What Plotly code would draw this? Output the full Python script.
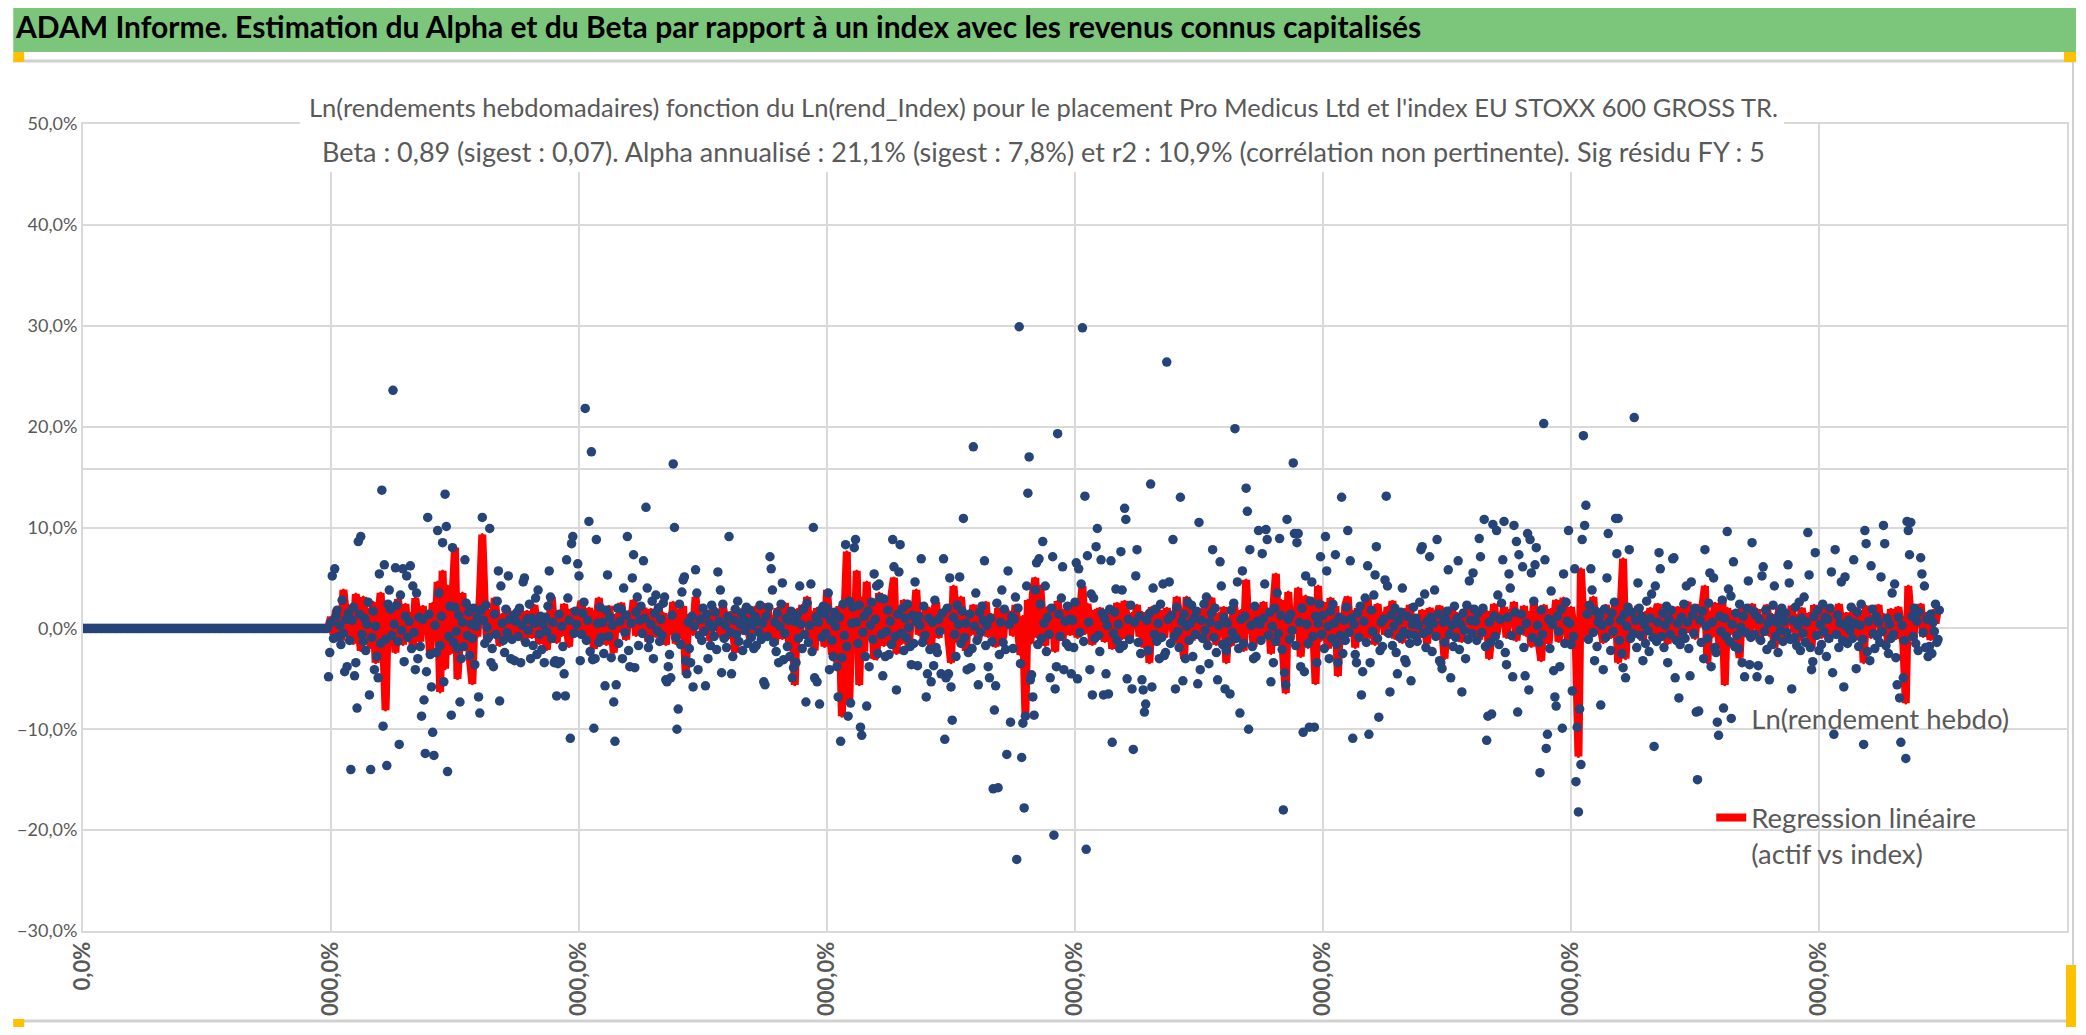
import plotly.graph_objects as go

# page is 2086 x 1035; the browser adds an 8 px body margin around the figure,
# so the figure is kept 16 px smaller and nothing is drawn outside it
PAGE_W, PAGE_H = 2086, 1035
OFF = 8
W, H = PAGE_W - 2 * OFF, PAGE_H - 2 * OFF
# plot area in page pixels
PL, PR, PT, PB = 78, 2069, 124, 931
ML, MR, MT, MB = PL - OFF, W - (PR - OFF), PT - OFF, H - (PB - OFF)
PW, PH = W - ML - MR, H - MT - MB

BLUE = "#264478"
RED = "#FF0000"
GRID = "#D9D9D9"
TXT = "#595959"
GREEN = "#7CC67C"
YELLOW = "#FFC000"
CAL = "Lato, Liberation Sans, Arial, sans-serif"

banner_title = ("ADAM Informe. Estimation du Alpha et du Beta par rapport à un index "
                "avec les revenus connus capitalisés")
sub_line1 = ("Ln(rendements hebdomadaires) fonction du Ln(rend_Index) pour le placement "
             "Pro Medicus Ltd et l'index EU STOXX 600 GROSS TR.")
sub_line2 = ("Beta : 0,89 (sigest : 0,07). Alpha annualisé : 21,1% (sigest : 7,8%) et r2 : "
             "10,9% (corrélation non pertinente). Sig résidu FY : 5")
name_asset = "Ln(rendement hebdo)"
name_fit = "Regression linéaire<br>(actif vs index)"

x_range = [0, 1600]
x_tick_values = [0, 200, 400, 600, 800, 1000, 1200, 1400, 1600]
# x labels as they show, cut by the bottom of the chart frame
x_tick_labels = ["0,0%", "000,0%", "000,0%", "000,0%", "000,0%",
                 "000,0%", "000,0%", "000,0%", "000,0%"]
y_range = [-0.3, 0.5]
y_step = 0.1

# weeks before the first quote: ln return shown as 0
first_week = 198
pre_listing = [0.0] * first_week

# weekly ln returns of the asset (%), one per week from week 198
asset_ln_pct = [
    -4.8, -2.4, 0.6, 5.2, -1.0, 5.9, 1.2, 1.8, -0.8, 0.3, -1.6, 2.8, -0.5, -4.3, 0.9, -3.8, 1.5, -1.2, -14.0, 0.8, 2.1, -4.7, -3.4, -7.9, 8.6,
    1.4, 9.1, -0.6, -1.3, 1.0, -2.2, 0.4, 2.6, -6.6, -14.0, -0.9, 1.7, -4.1, 0.2, -2.8, -4.9, 5.4, -1.5, 13.7, -9.7, 6.3, -1.1, -13.6, 2.4, 3.8,
    1.9, -0.7, 23.6, 0.4, 6.0, 2.3, -1.3, -11.5, 3.3, -0.2, 5.9, -3.3, 1.2, 5.2, -0.9, 0.7, 6.2, -2.0, 4.2, -0.4, -4.1, 3.5, -3.0, 1.1, -1.8,
    -8.7, 0.9, -7.1, -12.4, -4.3, 11.0, 1.4, -2.6, -5.8, -10.3, -12.6, 0.3, -2.4, 9.7, 3.5, -1.7, 1.2, 8.5, -5.3, 13.3, 10.1, -14.2, -0.8, 2.2, -8.6,
    8.0, -1.4, 2.1, -0.3, -2.0, 1.3, -7.3, -3.0, 0.6, -1.8, 6.8, 2.5, -0.7, 1.6, -2.7, 0.4, -1.0, 2.0, -3.6, 0.2, 1.1, -6.8, -8.4, 1.8, 11.0,
    0.8, -1.5, 2.3, 0.1, -0.9, 9.9, -3.4, -2.0, -3.8, 1.4, -0.6, 2.7, 5.7, -7.2, 4.2, 0.5, -1.2, -2.4, 1.9, -0.4, 5.2, 0.9, -3.0, -1.1, 1.3,
    -3.2, 0.7, 1.6, -0.8, 2.0, -3.4, 0.3, 4.6, 5.0, -1.4, 0.9, -0.2, 2.4, -3.0, 1.0, -1.7, 0.5, 3.0, -2.6, 3.8, -0.6, 1.2, -2.1, 0.4, -3.4,
    1.1, -0.3, 2.2, 5.7, 3.1, -1.0, 0.6, -3.4, -3.2, -6.7, -3.5, 1.4, -3.3, 0.2, -1.8, -4.5, -6.7, 6.8, 3.0, 0.8, -10.9, 8.4, 9.1, -0.5, 1.7,
    0.4, 6.4, 5.2, -3.2, -0.6, 1.5, 2.6, 21.8, -1.2, 0.8, 10.6, -2.3, 17.5, -3.1, -9.9, -3.0, 8.8, 0.5, -1.4, 2.1, -0.9, 0.6, -2.5, -5.7, 1.8,
    5.3, -0.8, 1.1, -2.9, 0.3, -7.3, -11.2, -5.6, 2.0, -1.5, 0.7, 1.9, -3.0, 4.0, -0.4, 1.3, 9.1, -2.2, -3.8, 0.5, 5.0, 7.3, -3.9, 1.6, 3.1,
    -1.7, 0.8, 2.2, -0.5, 6.7, 1.0, 12.0, 4.0, -1.9, -1.1, 0.4, 2.7, -3.0, 1.5, 3.3, -0.2, 2.0, -1.3, 0.9, -0.7, 2.5, 3.1, -5.1, -5.3, -3.8,
    -2.6, -4.9, 1.3, 16.3, 10.0, -0.9, -10.0, -8.0, 2.4, -1.6, 3.6, 4.8, 5.1, -3.2, -4.5, 0.6, -2.0, -3.4, 1.2, -5.8, 0.2, 5.8, 3.5, -4.1, -0.7,
    0.9, -1.2, 2.0, -0.3, -5.7, 1.4, -3.0, 0.5, -1.7, 2.3, 0.1, -0.8, 1.6, -2.1, 5.6, 0.7, 3.8, -4.4, 2.4, -1.0, 0.3, -1.9, 1.2, 9.1, -0.4,
    -4.5, -2.8, 0.8, 1.9, -0.6, 2.7, -1.3, 0.4, 1.5, -2.2, 0.9, -0.2, 2.1, -1.5, 0.6, 1.8, -0.9, 0.3, -2.0, 1.2, -1.7, 0.7, -0.4, 2.3, -1.1,
    0.5, -5.3, -5.6, 1.2, -0.8, 2.1, 7.1, 5.9, 3.8, -1.4, 0.6, -2.3, 1.5, -3.4, 0.2, 2.4, 4.5, -3.1, -0.5, 1.0, -1.8, 0.8, -2.8, 1.7, -4.9,
    -3.9, 0.7, -3.4, 1.3, -1.0, 4.2, 0.4, -2.0, 1.9, -0.6, -7.3, 2.5, -1.4, 0.3, 4.4, -2.3, 10.0, -4.9, 1.1, -5.3, 0.6, -7.5, 1.8, -0.9, 2.2,
    1.4, -0.5, 2.0, 3.5, -4.1, 0.8, -1.2, -2.8, 1.6, 0.2, -3.8, -6.8, 1.1, -11.2, -2.9, 2.4, -0.7, 8.3, -1.8, -8.7, 2.7, -7.4, 0.5, 2.1, 8.0,
    8.8, 0.6, -1.5, 2.3, -9.8, -10.6, -0.4, 1.2, -2.8, -7.7, 1.7, -3.8, 0.3, 2.6, -1.1, 5.4, 0.9, 4.2, -2.5, 4.4, 3.0, -0.6, -4.7, 2.9, -2.8,
    -0.3, 1.8, -2.6, 0.7, -1.6, 8.8, 6.1, -0.8, -6.1, 1.4, 5.6, 8.3, -0.5, 2.0, -2.2, 1.0, -0.9, 2.4, 0.1, -1.8, -3.6, 1.3, -1.5, 4.6, 0.7,
    -3.7, 1.2, 0.3, 6.9, -1.4, 2.2, -0.7, -6.8, -4.5, 1.0, -2.1, -5.3, 0.6, -3.7, 2.8, -1.9, -2.4, 0.9, -0.3, -4.5, 1.5, 6.9, -11.0, -4.9, 2.0,
    -4.5, 5.0, -5.8, -9.1, 1.1, -0.6, -2.8, 2.3, 0.4, 5.1, -1.5, 1.7, 10.9, -0.9, 0.5, -4.1, -2.4, 1.4, -3.9, -2.0, 18.0, 0.2, 3.5, -1.2, -5.6,
    1.6, -0.4, 2.2, 0.8, 6.7, -1.7, 0.3, -3.8, -4.9, 1.0, -1.3, -15.9, -8.1, -5.7, 2.5, -15.8, -2.6, 0.6, 3.8, -1.4, 1.9, -2.1, -12.5, 5.7, 0.4,
    -9.3, 1.2, -2.0, 0.9, 3.1, -22.9, 2.0, 29.9, -3.5, -12.8, -9.4, -17.8, -8.7, 4.2, 13.4, 17.0, -5.1, -4.6, -6.8, -8.6, 3.8, 6.5, -1.6, 6.9, 2.4,
    -1.0, 8.6, 0.5, 4.2, -2.3, 1.1, -0.6, -4.9, 2.0, 7.1, -20.5, -6.0, -3.8, 19.3, 1.4, -0.8, 3.0, 6.1, -4.1, 0.7, -1.5, 2.2, -1.8, 0.9, -4.5,
    0.8, -1.9, 2.6, 6.5, -5.0, 5.9, -0.4, 4.4, 29.8, -1.3, 13.1, -21.9, 7.2, 0.6, -4.1, 3.4, -6.6, 3.0, -1.0, 8.1, 9.9, -0.7, -2.3, 6.8, 1.5,
    -6.6, 1.0, -4.5, 0.3, -6.5, 1.9, 6.7, -11.3, -0.5, 1.6, 3.9, -1.2, 0.4, -2.0, 7.6, 3.8, -1.7, 11.9, 10.8, -5.0, 0.9, -1.1, 2.3, -6.0, -12.0,
    0.6, 5.2, 7.8, -1.4, 1.2, -2.5, -5.1, -6.1, -8.3, -7.5, 0.8, -2.2, 1.5, 14.3, -5.8, 4.0, -0.6, 1.9, -1.3, 0.5, -3.0, 2.4, -0.9, 4.4, -2.7,
    -2.4, 26.4, 0.9, 4.6, -1.5, 1.3, 8.8, -0.8, -6.0, 2.1, -0.3, -1.9, 13.0, 0.7, -5.2, 1.4, -3.0, 0.2, 2.6, -1.2, 0.5, 2.3, -2.8, 1.0, -0.6,
    1.7, -5.5, 10.5, -4.1, 0.8, -1.0, 2.4, -0.2, 3.1, -1.7, -3.5, 0.6, 1.5, 7.8, -0.9, 2.0, -2.4, -5.1, 0.3, 6.6, 4.2, -1.6, 1.1, -6.0, -2.2,
    0.5, -1.3, -6.5, 1.8, -0.4, 2.5, 19.8, -1.0, 4.6, -2.0, -8.4, 0.9, 5.7, -1.5, 1.2, 13.9, 11.6, -10.0, 7.8, 0.3, -1.8, -3.0, 2.2, -2.8, 0.7,
    9.7, 0.4, -1.2, 7.4, 1.0, 4.4, 9.8, 8.8, -0.7, 1.6, -5.3, 0.2, -3.4, 2.0, -1.3, 3.5, -0.5, 8.9, 1.3, -2.1, -18.0, -4.4, -5.6, 10.8, 0.9,
    -1.1, 1.4, -0.2, 16.4, 9.4, -1.7, 8.5, 9.4, 0.6, -3.8, 2.0, -10.3, -4.3, 5.2, 0.4, -1.5, -9.8, 2.7, 4.6, -0.8, -9.8, 1.2, -3.4, 0.5, 2.4,
    7.1, -0.6, 1.3, -2.0, 9.1, 5.7, 0.2, -3.0, 1.7, -1.0, 2.4, 0.5, 7.3, -1.6, -3.4, 1.1, -0.7, 13.0, -2.5, 0.8, -1.2, 2.1, 9.7, -0.4, 6.7,
    1.0, -10.9, 0.4, -2.6, -3.4, 1.5, -0.9, 2.2, -6.6, -4.3, 0.7, 3.0, -1.4, 6.2, -10.5, -3.4, 1.8, -0.3, 3.3, 5.3, 8.1, -1.0, -8.8, -2.2, 0.6,
    -1.8, 0.9, 4.8, 13.1, 4.2, -0.5, -6.3, 1.3, -1.7, 0.2, 2.0, -2.4, -4.5, 0.8, -0.9, 1.6, 4.0, -0.3, -3.1, -3.4, 1.2, -0.6, -1.5, -5.2, 0.4,
    2.1, -0.7, 1.0, -1.3, 0.3, 2.6, 7.8, 8.1, -0.5, 3.4, -1.9, 0.7, -0.2, 7.1, 1.1, -2.3, 0.5, 3.8, -0.8, 8.8, 1.4, -3.2, -3.4, -4.0, 0.6,
    -1.4, 0.9, 1.7, 5.8, -0.6, -4.9, 0.3, -1.8, 2.2, -0.9, 1.0, 6.7, -2.1, 0.4, -6.3, 1.5, -0.2, -3.0, 2.3, -1.1, 4.7, 0.8, -0.5, 5.5, 1.9,
    0.7, -1.2, 1.5, 8.9, 7.1, -0.4, 2.0, 10.8, -1.8, -11.1, -8.7, 0.6, -1.4, -8.5, 10.3, 1.2, -0.8, 9.7, 3.3, -1.6, 0.9, 2.5, 6.8, 10.6, -2.4,
    -3.6, 1.1, 5.4, 4.0, -0.7, -4.8, 10.2, 1.6, 8.6, -8.3, 7.3, -0.2, 1.4, 6.1, -1.9, -4.7, 0.5, 9.4, -6.1, 8.8, 5.5, -0.9, 2.7, 6.3, 8.0,
    0.3, -1.4, -14.3, 1.8, -0.6, 20.3, 6.8, -11.9, -10.5, 0.9, -2.0, 3.7, 0.4, -4.2, -6.8, -7.7, 1.2, -0.3, -3.8, 1.9, -9.9, 5.4, -1.5, 2.6, 0.7,
    9.7, 0.5, -1.6, -6.2, -0.8, 5.9, -15.2, -9.8, -18.2, -8.0, -13.5, 8.8, 19.1, 10.2, 12.2, 1.4, -1.1, 2.3, 5.9, 3.8, -0.4, -3.2, 1.7, -1.8, 0.6,
    1.2, -7.6, 0.3, -4.1, 1.9, -0.9, 5.0, 9.4, 0.7, -2.2, 1.5, -0.3, 2.6, 10.9, 7.4, 10.9, -1.2, 0.8, -2.5, -3.9, 1.4, -4.9, 0.2, 2.1, 7.8,
    -1.0, 1.6, -0.5, 20.9, 0.8, -1.9, 4.5, 2.0, -0.7, 1.2, -3.2, 0.4, -1.5, 2.7, -0.2, -2.3, 1.0, 3.4, -0.9, -11.7, 4.2, -1.3, 0.6, 7.5, 5.9,
    -0.8, 1.5, -1.9, 0.3, 2.2, -3.4, 0.9, -0.6, 1.8, 6.9, 7.0, -4.9, -1.2, 0.5, -6.9, -1.6, 1.1, -0.4, 2.4, -1.0, 4.2, 0.6, -2.0, -4.7, 4.6,
    1.3, -0.5, 2.0, -8.3, -15.0, -8.2, 0.8, -1.4, 1.7, -3.0, 7.8, 0.2, -1.0, 2.5, 5.5, -3.8, 0.6, 5.0, -1.9, -2.4, -9.3, -10.6, 1.2, -0.3, 2.8,
    -7.9, 1.0, -0.8, 9.6, 3.9, -1.3, 3.2, 0.4, 6.6, -1.8, 1.5, -0.7, -2.0, 2.4, 0.1, -3.4, 1.2, -4.8, -0.4, 2.0, 4.7, -3.6, -0.9, 8.5, 1.7,
    -0.6, 1.3, -4.8, -3.7, 0.9, -1.2, 5.2, 6.1, -0.3, 1.8, -2.1, 0.5, -5.1, 1.0, -1.6, 2.3, 4.2, -0.8, 0.6, -2.4, 1.4, -0.2, 2.0, -1.3, 0.7,
    1.5, -0.4, 6.3, 4.5, -1.1, -6.0, 0.8, -0.9, 2.1, -1.7, 0.3, 2.6, -2.2, 1.0, -0.5, 3.1, -1.4, 0.6, 9.5, 5.3, -1.9, -4.1, -3.3, 1.2, 7.5,
    -0.7, 1.8, -2.2, 0.4, -1.6, 2.4, -0.3, 1.1, -2.8, 0.9, -1.0, 2.0, 5.6, -4.4, -10.5, 7.8, -0.6, 1.3, -1.9, 0.5, 4.6, -1.2, -5.8, 5.1, 0.2,
    -1.5, 0.8, -0.2, 2.1, -1.0, 6.8, 0.5, -4.0, 1.6, -1.8, 0.3, 2.4, -1.1, -11.5, 9.7, 8.4, -2.3, 0.7, -3.2, 6.2, 1.9, -0.5, -2.0, 1.2, -0.8,
    0.6, -1.4, 5.1, -0.3, 10.2, 8.4, -1.7, 1.0, -2.5, 0.4, -1.0, 3.5, -0.6, 4.4, -2.9, -5.6, 1.1, -6.9, -11.3, 0.3, -4.9, -1.2, -12.9, 10.6, 9.7,
    7.3, 10.5, 1.2, -0.8, 2.0, -1.5, 0.7, -2.2, 1.6, 7.0, 5.4, -0.4, 4.2, -1.9, 0.9, -2.8, -1.8, 1.4, -2.5, 0.6, -0.3, 2.4, -1.4, -1.1, 1.8,
]

# regression line alpha + beta * index (%), every second week from week 198
fit_pct = [
    0.2, 1.1, -0.6, 1.8, 0.4, -1.2, 3.8, 0.9, -0.8, 2.0, -1.5, 3.4, 0.6, -2.2, 3.1, 0.3, 1.9, -1.9, 2.6, -3.4, 0.8, 3.5, -0.9, -8.1, 2.2,
    -1.0, 1.7, -2.4, 2.9, 0.2, -1.6, 2.4, -0.5, 1.5, -2.1, 3.0, 0.7, -1.3, 2.2, -0.4, 1.2, -2.8, 2.5, -1.0, 4.6, -6.3, 5.7, -4.0, 4.2, -2.5,
    3.0, 8.0, -5.0, 1.6, 3.5, -1.8, 2.4, -3.0, -5.5, 1.9, -0.8, 3.0, 9.3, 2.3, -1.4, 1.8, -0.6, 3.0, 0.4, -1.7, 1.4, -0.3, 2.0, -1.1, 0.8,
    1.6, -0.5, 2.1, 0.3, -1.3, 1.7, 0.5, -0.9, 2.3, 0.1, -1.5, 1.2, 0.6, -2.1, 1.8, 3.1, 0.2, -1.4, 1.5, -0.7, 2.4, 0.4, -1.8, 1.9, 0.7,
    -0.6, 1.5, 2.7, 0.3, -1.2, 2.0, 0.8, -2.0, 1.3, 3.0, -0.4, 1.6, -1.6, 2.2, 0.5, -2.4, 1.4, -0.3, 2.5, 0.9, -1.1, 1.7, 0.2, 2.8, -0.7,
    1.2, -0.2, 2.0, 0.6, -1.3, 1.9, 0.4, -0.8, 2.4, 0.1, 1.5, -1.6, 1.0, -0.5, 2.6, -1.5, 1.8, -0.9, 2.2, -4.6, 0.7, 1.3, -0.6, 3.1, 0.3,
    1.1, -0.4, 1.8, 0.5, -1.2, 2.1, 0.3, 1.4, -0.8, 2.3, 0.6, -1.0, 1.6, 0.2, -2.4, 1.9, 0.8, -0.5, 2.0, 0.4, -1.1, 1.7, -0.2, 2.2, 0.5,
    -0.9, 1.5, 2.4, -0.3, 1.2, -1.6, 2.0, 0.6, -1.0, 2.5, 0.1, -2.0, 1.4, -5.6, 1.9, -0.7, 2.3, 0.5, 3.1, -1.3, 1.6, -2.2, 2.0, -0.4, 1.2,
    -1.8, 3.8, 0.4, -2.6, 1.7, -3.4, 2.2, -8.7, 1.0, 7.6, -7.2, 2.6, -1.9, 5.7, -5.6, 3.0, -2.3, 4.6, -0.8, 2.4, -3.0, -2.6, 3.5, 0.6, -1.7,
    2.6, -1.2, 3.3, 5.0, -2.5, 1.9, -1.5, 2.8, 0.2, -2.0, 2.2, 0.9, 3.8, -0.6, 1.5, -1.3, 2.1, 0.4, -1.8, 1.6, 2.6, -0.9, 1.3, 0.2, 2.0,
    -1.0, -3.4, 4.2, 0.8, -1.4, 3.1, 0.5, -2.2, 1.7, -0.6, 2.3, 0.9, -1.2, 1.9, 0.3, 2.6, -0.8, 1.4, -0.3, -1.8, 2.0, 0.6, -1.0, 1.8, 0.2,
    1.6, -0.7, 2.3, 0.4, -2.6, 1.2, -8.5, 2.8, -1.5, 3.4, 5.0, -0.9, 4.2, 0.6, -1.7, 2.1, -0.7, 1.5, -2.3, 2.7, 0.3, -1.1, 1.9, 0.5, -0.6,
    1.4, 2.2, -0.9, 1.1, 4.2, -0.5, 2.4, 0.7, -1.6, 1.8, -0.2, 2.0, 0.4, -1.3, 1.6, 0.8, -2.0, 1.2, 2.5, 0.1, -1.0, 2.7, 0.5, -1.4, 1.5,
    0.3, 2.3, -0.8, 1.6, -1.9, 1.0, -3.4, 2.1, 0.4, -1.1, 1.8, 0.6, -0.9, 2.0, 0.2, 1.4, -1.5, 3.1, 0.5, -0.7, -3.0, 3.1, 0.8, -1.2, 1.7,
    0.2, -1.0, 1.9, 0.6, -1.3, 2.2, 3.0, 0.4, -1.6, 1.5, -0.5, 2.1, -3.4, 0.9, -1.7, 2.4, 0.3, -0.9, 1.8, -2.2, 4.8, -0.4, 1.6, -1.8, 2.3,
    0.5, -1.4, 2.6, -0.8, 1.9, -2.5, 2.2, 5.4, -1.6, 2.8, -2.9, -6.4, 3.6, -1.1, 2.0, -0.4, 4.0, -2.8, 1.5, 3.2, -1.9, 2.4, 0.3, -5.5, 4.2,
    -1.2, 2.6, 0.4, -2.0, 3.0, -0.8, 2.2, -4.7, 1.4, -1.5, 2.3, 3.1, -0.6, 1.7, -1.9, 2.0, 0.5, -1.2, 1.6, 3.0, -0.9, 1.2, -1.6, 2.4, 0.1,
    1.5, -0.6, 2.1, 0.3, 2.7, -1.0, 1.6, 0.5, -1.4, 1.9, 0.2, 2.3, -0.7, 1.2, 0.6, -0.9, 1.8, 0.3, -1.5, 2.0, 0.7, -0.5, 1.4, 2.2, 0.1,
    -3.0, 1.3, 0.4, 2.1, -0.8, 1.5, 0.2, -1.3, 1.9, 0.6, 2.3, -0.4, 1.6, 0.8, -1.1, 2.0, 0.3, 1.7, -3.0, 1.1, 2.4, -0.6, 1.5, 0.4, 2.1,
    -0.9, 1.8, 0.5, 2.6, -1.2, 1.4, 0.2, 2.2, -0.7, 1.6, -1.8, 2.5, 0.4, -1.0, -3.2, 2.3, 0.6, -1.5, 1.9, 0.3, 2.8, -1.3, 1.2, 3.0, 0.5,
    -1.6, 2.1, 0.4, -2.0, -12.7, 5.9, 0.8, 2.6, -1.1, 1.7, 3.1, -0.5, 1.9, 0.2, -1.4, 2.3, 0.7, -0.9, 1.5, 2.4, -3.4, 1.2, 6.9, -3.0, 1.6,
    0.3, 1.8, -0.8, 2.2, 0.5, -1.2, 1.6, 0.1, 2.0, -0.6, 1.3, 2.4, -0.9, 1.1, 0.4, -1.5, 1.8, 0.6, -0.7, 2.1, 0.2, -1.2, 1.5, 2.6, -0.4,
    1.4, -1.0, 2.3, 0.2, 3.0, 4.2, -3.4, 1.6, -0.8, 2.5, 0.3, -1.9, 3.1, -5.6, 2.0, -0.6, 1.7, 0.5, -1.2, -2.9, 2.2, 0.4, 1.5, -0.9, 2.4,
    0.1, 1.9, -1.3, 1.2, 0.6, 2.3, -0.7, 1.4, -1.9, 0.8, 2.1, 0.3, -1.0, 1.7, 0.5, 2.2, -0.4, 1.3, -1.2, 2.0, 0.6, -0.8, 1.5, -1.9, 2.3,
    0.4, 1.6, -0.9, 2.0, 0.2, -1.3, 1.8, 0.7, -0.5, 2.4, 0.3, -1.6, 1.5, 0.8, -0.7, 2.1, 0.4, -1.1, 1.7, -3.4, 2.2, 0.5, -0.9, 1.3, 0.6,
    2.3, -0.6, 1.4, 0.2, -1.4, 1.9, 0.6, -1.0, 2.1, 0.3, -1.5, -7.4, 4.2, 0.9, -1.2, 1.7, 0.4, 2.4, -0.8, 1.5, 0.2, -1.1, 1.8, 0.5, 2.0,
]

asset_y = [v / 100 for v in pre_listing + asset_ln_pct]
asset_weeks = list(range(len(asset_y)))
fit_y = [v / 100 for v in fit_pct]
fit_weeks = list(range(first_week, first_week + 2 * len(fit_y), 2))


# page pixel -> paper coordinate, clamped to the figure so nothing overflows
def px_x(px):
    px = min(max(px, OFF), OFF + W)
    return (px - OFF - ML) / PW


def px_y(py):
    py = min(max(py, OFF), OFF + H)
    return (H - MB - (py - OFF)) / PH


fig = go.Figure()

fig.add_trace(go.Scatter(
    x=fit_weeks, y=fit_y, name=name_fit, mode="lines+markers",
    line=dict(color=RED, width=8), marker=dict(color=RED, size=3),
    legend="legend2",
))
fig.add_trace(go.Scatter(
    x=asset_weeks, y=asset_y, name=name_asset, mode="markers",
    marker=dict(color=BLUE, size=9.5),
    legend="legend",
))


def rect(x0, y0, x1, y1, color, layer="above"):
    return dict(type="rect", xref="paper", yref="paper",
                x0=px_x(x0), x1=px_x(x1), y0=px_y(y1), y1=px_y(y0),
                fillcolor=color, line=dict(width=0), layer=layer)


def hline(y, x0, x1, color, width):
    return dict(type="line", xref="paper", yref="paper",
                x0=px_x(x0), x1=px_x(x1), y0=px_y(y), y1=px_y(y),
                line=dict(color=color, width=width), layer="above")


def vline(x, y0, y1, color, width):
    return dict(type="line", xref="paper", yref="paper",
                x0=px_x(x), x1=px_x(x), y0=px_y(y0), y1=px_y(y1),
                line=dict(color=color, width=width), layer="above")


shapes = [
    # faint extra rule seen in the picture
    dict(type="line", xref="paper", yref="y", x0=0, x1=1, y0=0.158, y1=0.158,
         line=dict(color=GRID, width=2), layer="below"),
    # white box behind the chart title
    rect(296, 78, 1785, 172, "white"),
    # bottom of the chart frame
    rect(0, 1021, PAGE_W, PAGE_H, "white"),
    hline(1021, 0, PAGE_W, "#D0D0D0", 3),
    vline(2075, 62, 1021, "#D0D0D0", 2),
    # sheet header banner
    rect(0, 0, PAGE_W, 52, GREEN),
    hline(61, 0, PAGE_W, "#D0D0D0", 3),
    # selection handles
    rect(0, 52, 19, 62, YELLOW),
    rect(2066, 52, PAGE_W, 62, YELLOW),
    rect(0, 1019, 19, 1027, YELLOW),
    rect(2068, 965, PAGE_W, PAGE_H, YELLOW),
]

annotations = [
    dict(text=banner_title, x=px_x(8), y=px_y(26), xref="paper", yref="paper",
         xanchor="left", yanchor="middle", showarrow=False,
         font=dict(family=CAL, size=30, color="black", weight="bold")),
    dict(text=sub_line1, x=px_x(1042), y=px_y(107), xref="paper", yref="paper",
         xanchor="center", yanchor="middle", showarrow=False,
         font=dict(family=CAL, size=25.5, color=TXT)),
    dict(text=sub_line2, x=px_x(1042), y=px_y(151), xref="paper", yref="paper",
         xanchor="center", yanchor="middle", showarrow=False,
         font=dict(family=CAL, size=27, color=TXT)),
]

legend_font = dict(family=CAL, size=27.5, color=TXT)

fig.update_layout(
    width=W, height=H,
    margin=dict(l=ML, r=MR, t=MT, b=MB),
    paper_bgcolor="white", plot_bgcolor="white",
    separators=", ",
    showlegend=True,
    legend=dict(x=px_x(1712), y=px_y(694), xanchor="left", yanchor="top",
                bgcolor="rgba(0,0,0,0)", font=legend_font),
    legend2=dict(x=px_x(1712), y=px_y(793), xanchor="left", yanchor="top",
                 bgcolor="rgba(0,0,0,0)", font=legend_font, valign="top"),
    shapes=shapes,
    annotations=annotations,
    xaxis=dict(
        range=x_range, tickvals=x_tick_values, ticktext=x_tick_labels, tickangle=-90,
        tickfont=dict(family=CAL, size=22, color=TXT, weight="bold"),
        showgrid=True, gridcolor=GRID, gridwidth=2, zeroline=False,
        showline=True, linecolor=GRID, linewidth=2, mirror=True, ticks="",
    ),
    yaxis=dict(
        range=y_range, dtick=y_step, tick0=0, tickformat=".1%",
        tickfont=dict(family=CAL, size=18, color=TXT),
        showgrid=True, gridcolor=GRID, gridwidth=2, zeroline=False,
        showline=True, linecolor=GRID, linewidth=2, mirror=True, ticks="",
    ),
)

fig.write_html("out.html")
